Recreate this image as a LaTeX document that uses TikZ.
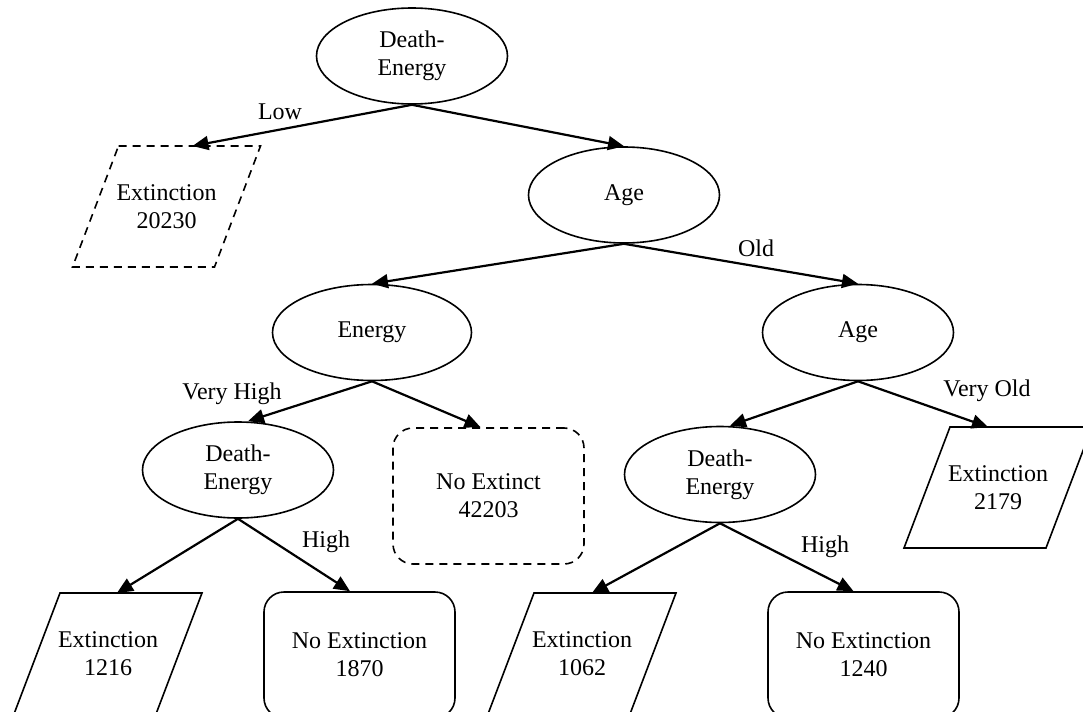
\documentclass[tikz,border=0pt]{standalone}
\usepackage{fontspec}
\setmainfont{Liberation Serif}
\usetikzlibrary{shapes.geometric,arrows.meta,calc}
\newcommand{\drawpara}[2][]{\draw[pline,#1] ($(#2)+(-48,-60.5)$) -- ($(#2)+(94,-60.5)$) -- ($(#2)+(48,60.5)$) -- ($(#2)+(-94,60.5)$) -- cycle;}
\begin{document}
\begin{tikzpicture}[x=0.5pt,y=-0.5pt,
  every node/.style={font=\fontsize{12}{14}\selectfont},
  ell/.style={ellipse,draw,line width=0.8pt,inner sep=0pt,minimum width=95.5pt,minimum height=48pt,align=center},
  rbox/.style={rectangle,rounded corners=10pt,draw,line width=0.8pt,inner sep=0pt,minimum width=95.5pt,align=center},
  txt/.style={align=center,inner sep=0pt},
  lbl/.style={inner sep=0pt},
  arr/.style={line width=1.1pt,-{Triangle[length=8pt,width=7pt]}},
  pline/.style={line width=0.8pt,line join=miter},
  dsh/.style={dash pattern=on 4pt off 3pt}
]
\useasboundingbox (0,0) rectangle (1083,712);
\clip (0,0) rectangle (1083,712);

% decision nodes
\node[ell] (root) at (412,56) {Death-\\Energy};
\node[ell] (age1) at (624,195) {Age};
\node[ell,minimum width=99.5pt] (energy) at (372,332.5) {Energy};
\node[ell] (age2) at (858,332.5) {Age};
\node[ell] (de2) at (238,470) {Death-\\Energy};
\node[ell] (de3) at (720,474.5) {Death-\\Energy};

% leaves: parallelograms
\node[txt] (e1) at (166.5,206.5) {Extinction\\20230};
\drawpara[dsh]{e1}
\node[txt] (e2) at (108,653.5) {Extinction\\1216};
\drawpara{e2}
\node[txt] (e3) at (582,653.5) {Extinction\\1062};
\drawpara{e3}
\node[txt] (e4) at (998,487.5) {Extinction\\2179};
\drawpara{e4}

% leaves: rounded boxes
\node[rbox,dsh,minimum height=68pt] (n1) at (488.5,496) {No Extinct\\42203};
\node[rbox,minimum height=63pt] (n2) at (359.5,655) {No Extinction\\1870};
\node[rbox,minimum height=63pt] (n3) at (863.5,655) {No Extinction\\1240};

% arrow end points on parallelogram tops
\coordinate (t1) at ($(e1)+(26,-60.5)$);
\coordinate (t2) at ($(e2)+(9,-60.5)$);
\coordinate (t3) at ($(e3)+(10,-60.5)$);
\coordinate (t4) at ($(e4)+(-10,-60.5)$);

% connectors
\draw[arr] (root.south) -- (t1);
\draw[arr] (root.south) -- (age1.north);
\draw[arr] (age1.south) -- (energy.north);
\draw[arr] (age1.south) -- (age2.north);
\draw[arr] (energy.south) -- ([xshift=5pt]de2.north);
\draw[arr] (energy.south) -- ([xshift=-4pt]n1.north);
\draw[arr] (de2.south) -- (t2);
\draw[arr] (de2.south) -- ([xshift=-4.75pt]n2.north);
\draw[arr] (age2.south) -- ([xshift=5pt]de3.north);
\draw[arr] (age2.south) -- (t4);
\draw[arr] (de3.south) -- (t3);
\draw[arr] (de3.south) -- ([xshift=-5pt]n3.north);

% edge labels
\node[lbl] (lLow) at (280,112) {Low};
\node[lbl] (lOld) at (756,248) {Old};
\node[lbl] (lVH) at (232,394) {Very High};
\node[lbl] (lH1) at (326,542) {High};
\node[lbl] (lVO) at (987,391) {Very Old};
\node[lbl] (lH2) at (825,547) {High};
\end{tikzpicture}
\end{document}
